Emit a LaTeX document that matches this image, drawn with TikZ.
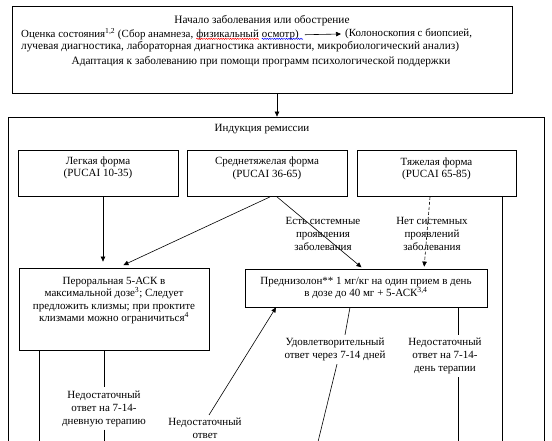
\documentclass[tikz,border=0pt]{standalone}
\usepackage{fontspec}
\setmainfont{Liberation Serif}
\usetikzlibrary{arrows.meta,decorations.pathmorphing}
\begin{document}
\begin{tikzpicture}[x=1pt,y=-1pt,
  boxst/.style={draw, line width=0.8pt, inner sep=0pt},
  btxt/.style={font=\fontsize{11}{12.3}\selectfont, align=center, inner sep=0pt},
  ltxt/.style={font=\fontsize{11}{13}\selectfont, align=center, inner sep=3pt},
  ttxt/.style={font=\fontsize{11.3}{13}\selectfont, inner sep=0pt},
  otxt/.style={font=\fontsize{10.9}{13}\selectfont, inner sep=0pt},
  conn/.style={line width=0.6pt},
  arr/.style={conn, -{Triangle[length=5pt,width=4.5pt]}},
  wavy/.style={line width=0.5pt, decorate, decoration={snake, amplitude=0.6pt, segment length=2.4pt}},
  ]
\useasboundingbox (0,0) rectangle (552,441);
\fill[white] (0,0) rectangle (552,441);
\clip (0,0) rectangle (552,441);

% top box
\node[boxst, minimum width=500pt, minimum height=87pt] (top) at (262,49.5) {};
\node[ttxt] (t1) at (262,20.5) {Начало заболевания или обострение};
\node[otxt, anchor=west] (oc1) at (21,34) {Оценка состояния\textsuperscript{1,2} (Сбор анамнеза,};
\node[otxt, anchor=base west] (oc2) at ([xshift=2.7pt]oc1.base east) {физикальный};
\node[otxt, anchor=base west] (oc3) at ([xshift=2.7pt]oc2.base east) {осмотр)};
\node[otxt, anchor=west] (kol) at (345,34) {(Колоноскопия с биопсией,};
\node[ttxt, anchor=west] (t3) at (21,46.5) {лучевая диагностика, лабораторная диагностика активности, микробиологический анализ)};
\node[ttxt] (t4) at (261,61.5) {Адаптация к заболеванию при помощи программ психологической поддержки};
\draw[arr] ([xshift=6pt]oc3.east) -- ([xshift=-4pt]kol.west);
\draw[wavy, red] ([yshift=-1.5pt]oc2.base west) -- ([yshift=-1.5pt]oc2.base east);
\draw[wavy, blue] ([yshift=-1.5pt]oc3.base west) -- ([xshift=4pt,yshift=-1.5pt]oc3.base east);

% induction frame
\node[boxst, minimum width=536pt, minimum height=343pt] (ind) at (276,288.5) {};
\node[btxt] (indT) at (262,129) {Индукция ремиссии};
\draw[arr] ([xshift=15pt]top.south) -- ([xshift=15pt]top.south |- ind.north);

% severity boxes
\node[boxst, minimum width=160pt, minimum height=46.5pt] (legk) at (98,173.25) {};
\node[btxt] (legkT) at (98,168) {Легкая форма\\(PUCAI 10-35)};
\node[boxst, minimum width=160pt, minimum height=46.5pt] (sr) at (267,173.25) {};
\node[btxt] (srT) at (267,168.5) {Среднетяжелая форма\\(PUCAI 36-65)};
\node[boxst, minimum width=159pt, minimum height=46.5pt] (ty) at (436.5,173.25) {};
\node[btxt] (tyT) at (436.5,169) {Тяжелая форма\\(PUCAI 65-85)};

% therapy boxes
\node[boxst, minimum width=190pt, minimum height=82pt] (per) at (114,309) {};
\node[btxt] (perT) at (114,300.5) {Пероральная 5-АСК в\\максимальной дозе\textsuperscript{3}; Следует\\предложить клизмы; при проктите\\клизмами можно ограничиться\textsuperscript{4}};
\node[boxst, minimum width=242pt, minimum height=38pt] (pred) at (366,288) {};
\node[btxt] (predT) at (366,288) {Преднизолон** 1 мг/кг на один прием в день\\в дозе до 40 мг + 5-АСК\textsuperscript{3,4}};

% labels
\node[ltxt] (est) at (323,233.5) {Есть системные\\проявления\\заболевания};
\node[ltxt] (net) at (432,233.5) {Нет системных\\проявлений\\заболевания};
\node[ltxt] (ned1) at (104,408.5) {Недостаточный\\ответ на 7-14-\\дневную терапию};
\node[ltxt] (ned2) at (205,428.5) {Недостаточный\\ответ};
\node[ltxt] (ud) at (335,349.5) {Удовлетворительный\\ответ через 7-14 дней};
\node[ltxt] (ned3) at (445,356) {Недостаточный\\ответ на 7-14-\\день терапии};

% free ends at the bottom edge
\coordinate (perEnd) at (39,450);
\coordinate (ned1End) at (104,450);
\coordinate (udEnd) at (316,450);
\coordinate (ned3End) at (458,450);
\coordinate (tyEnd) at (502,450);

% connectors
\draw[arr, shorten >=6pt] ([xshift=5pt]legk.south) -- ([xshift=5pt]legk.south |- per.north);
\draw[arr, shorten >=6pt] ([xshift=3pt]sr.south) -- ([xshift=4pt]per.north);
\draw[arr, shorten >=2pt] ([xshift=10pt]sr.south) -- ([xshift=-3pt]pred.north);
\draw[arr, dashed, dash pattern=on 3pt off 2pt, shorten >=2pt] ([xshift=-6.5pt]ty.south) -- ([xshift=58pt]pred.north);
\draw[conn] ([xshift=65.5pt]ty.south) -- (tyEnd);
\draw[conn] ([xshift=-75pt]per.south) -- (perEnd);
\draw[conn] ([xshift=-10pt]per.south) -- (ned1.north);
\draw[conn] (ned1.south) -- (ned1End);
\draw[arr] ([xshift=4pt]ned2.north) -- ([xshift=-90pt]pred.south);
\draw[conn] ([xshift=-16pt]pred.south) -- ([xshift=10pt]ud.north);
\draw[conn] ([xshift=2pt]ud.south) -- (udEnd);
\draw[conn] ([xshift=92pt]pred.south) -- ([xshift=92pt]pred.south |- ned3.north);
\draw[conn] (ned3.south -| ned3End) -- (ned3End);
\end{tikzpicture}
\end{document}
